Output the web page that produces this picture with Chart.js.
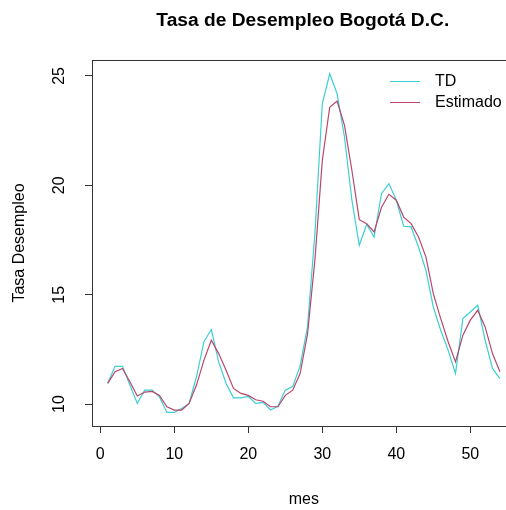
<!DOCTYPE html>
<html>
<head>
<meta charset="utf-8">
<script src="https://cdn.jsdelivr.net/npm/chart.js@4.4.1/dist/chart.umd.min.js"></script>
<style>
  html, body { margin: 0; padding: 0; background: #fff; overflow: hidden; }
  #wrap { width: 506px; height: 510px; overflow: hidden; position: relative; }
  #chart-line { position: absolute; left: 0; top: 0; }
</style>
</head>
<body>
<div id="wrap"><canvas id="chart-line" width="530" height="510"></canvas></div>
<script>
// datos
var mes = [1, 2, 3, 4, 5, 6, 7, 8, 9, 10, 11, 12, 13, 14, 15, 16, 17, 18,
  19, 20, 21, 22, 23, 24, 25, 26, 27, 28, 29, 30, 31, 32, 33, 34, 35, 36,
  37, 38, 39, 40, 41, 42, 43, 44, 45, 46, 47, 48, 49, 50, 51, 52, 53, 54];
var td = [10.95, 11.73, 11.73, 10.87, 10.03, 10.64, 10.64, 10.33, 9.62, 9.62,
  9.8, 10.03, 11.25, 12.85, 13.41, 11.93, 10.94, 10.29, 10.29, 10.35,
  10.03, 10.08, 9.73, 9.9, 10.64, 10.8, 11.75, 13.53, 17.79, 23.73,
  25.1, 24.19, 22.2, 19.32, 17.26, 18.22, 17.64, 19.62, 20.08, 19.32,
  18.13, 18.1, 17.18, 16.12, 14.44, 13.38, 12.47, 11.4, 13.91, 14.21,
  14.52, 12.92, 11.63, 11.17];
var estimado = [10.95, 11.48, 11.63, 11.02, 10.37, 10.55, 10.58, 10.4, 9.88, 9.73,
  9.73, 10.03, 10.87, 12.0, 12.92, 12.31, 11.55, 10.72, 10.49, 10.4,
  10.2, 10.13, 9.88, 9.88, 10.4, 10.64, 11.4, 13.2, 16.58, 21.14,
  23.57, 23.85, 22.74, 20.68, 18.43, 18.25, 17.87, 19.0, 19.59, 19.32,
  18.55, 18.25, 17.64, 16.73, 15.05, 13.91, 12.85, 11.93, 13.15, 13.84,
  14.29, 13.53, 12.31, 11.48];
var xTicks = [0, 10, 20, 30, 40, 50];
var yTicks = [10, 15, 20, 25];

var fuente = "'Liberation Sans', Arial, sans-serif";

function puntos(serie) {
  return mes.map(function(m, i) {
    return {x: m, y: serie[i]};
  });
}

// caja, titulo y leyenda estilo R
var estiloR = {
  id: 'estiloR',
  afterDraw: function(chart) {
    var ctx = chart.ctx;
    var a = chart.chartArea;
    ctx.save();
    ctx.strokeStyle = '#333';
    ctx.lineWidth = 1;
    ctx.strokeRect(Math.round(a.left) + 0.5, Math.round(a.top) + 0.5,
      Math.round(a.right - a.left), Math.round(a.bottom - a.top));

    ctx.fillStyle = '#000';
    ctx.font = 'bold 19.2px ' + fuente;
    ctx.textAlign = 'center';
    ctx.textBaseline = 'alphabetic';
    ctx.fillText('Tasa de Desempleo Bogotá D.C.', (a.left + a.right) / 2 - 1, 26);

    var ds = chart.data.datasets;
    ctx.font = '16px ' + fuente;
    ctx.textAlign = 'left';
    ctx.textBaseline = 'middle';
    ds.forEach(function(d, i) {
      var y = 81 + i * 21;
      ctx.strokeStyle = d.borderColor;
      ctx.beginPath();
      ctx.moveTo(390, y + 0.5);
      ctx.lineTo(420, y + 0.5);
      ctx.stroke();
      ctx.fillStyle = '#000';
      ctx.fillText(d.label, 435, y + 1);
    });
    ctx.restore();
  }
};

const ctx = document.getElementById('chart-line').getContext('2d');
const myChart = new Chart(ctx, {
  type: 'line',
  data: {
    datasets: [{
      label: 'TD',
      data: puntos(td),
      borderColor: '#3ccfd4',
      backgroundColor: 'transparent',
      borderWidth: 1.2,
      pointRadius: 0,
      order: 2
    },
    {
      label: 'Estimado',
      data: puntos(estimado),
      borderColor: '#b8476a',
      backgroundColor: 'transparent',
      borderWidth: 1.2,
      pointRadius: 0,
      order: 1
    }]
  },
  options: {
    responsive: false,
    animation: false,
    events: [],
    elements: {
      line: {
        tension: 0
      }
    },
    layout: {
      // el area del grafico sigue mas alla del borde derecho, como en el original
      padding: {left: 0, top: 60, right: 14.4, bottom: 0}
    },
    plugins: {
      legend: {display: false},
      title: {display: false},
      tooltip: {enabled: false}
    },
    scales: {
      x: {
        type: 'linear',
        min: -1.12,
        max: 56.12,
        afterFit: function(s) { s.height = 84; },
        border: {display: true, color: '#333'},
        grid: {drawOnChartArea: false, drawTicks: true, tickLength: 7, color: '#333'},
        afterBuildTicks: function(s) {
          s.ticks = xTicks.map(function(v) { return {value: v}; });
        },
        ticks: {
          font: {family: fuente, size: 16},
          color: '#000',
          padding: 12,
          maxRotation: 0,
          autoSkip: false
        },
        title: {
          display: true,
          text: 'mes',
          font: {family: fuente, size: 16},
          color: '#000',
          padding: {top: 0, bottom: 1}
        }
      },
      y: {
        min: 9.0,
        max: 25.73,
        afterFit: function(s) { s.width = 92; },
        border: {display: true, color: '#333'},
        grid: {drawOnChartArea: false, drawTicks: true, tickLength: 7, color: '#333'},
        afterBuildTicks: function(s) {
          s.ticks = yTicks.map(function(v) { return {value: v}; });
        },
        ticks: {
          font: {family: fuente, size: 16},
          color: '#000',
          padding: 17,
          minRotation: 90,
          maxRotation: 90,
          crossAlign: 'center',
          autoSkip: false
        },
        title: {
          display: true,
          text: 'Tasa Desempleo',
          font: {family: fuente, size: 16},
          color: '#000',
          padding: {top: 10, bottom: 0}
        }
      }
    }
  },
  plugins: [estiloR]
});
</script>
</body>
</html>
